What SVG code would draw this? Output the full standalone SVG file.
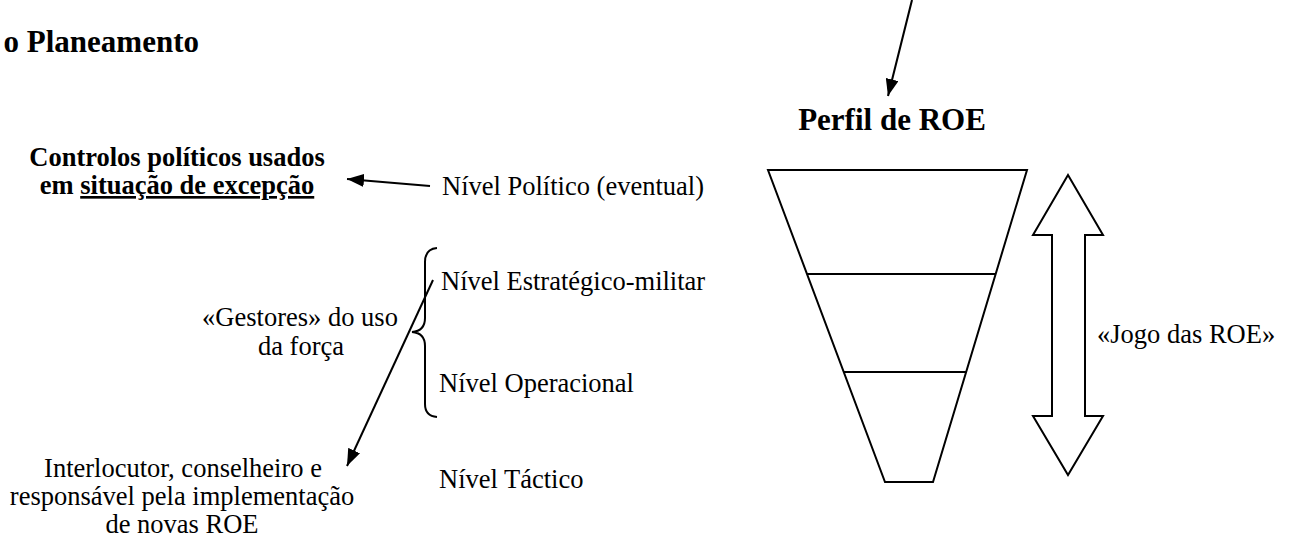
<svg xmlns="http://www.w3.org/2000/svg" width="1290" height="542" viewBox="0 0 1290 542" font-family="'Liberation Serif', Tinos, 'Times New Roman', Times, serif">
<style>
text{font-family:'Liberation Serif',Tinos,'Times New Roman',Times,serif;fill:#000}
.b{font-weight:bold;font-size:26.5px}
.t{font-weight:bold;font-size:31px}
.n{font-size:26.5px}
.ln{stroke:#000;stroke-width:2;fill:none}
</style>
<defs>
<marker id="ah" viewBox="0 0 17 13" refX="17" refY="6.5" markerWidth="17" markerHeight="13" markerUnits="userSpaceOnUse" orient="auto">
<path d="M0,0 L17,6.5 L0,13 z" fill="#000"/>
</marker>
</defs>
<rect width="1290" height="542" fill="#fff"/>
<g id="title"><text class="t" x="199" y="52" text-anchor="end">o Planeamento</text></g>
<g id="controlos">
<text class="b" x="177" y="166" text-anchor="middle">Controlos políticos usados</text>
<text class="b" x="177" y="194" text-anchor="middle">em <tspan text-decoration="underline">situação de excepção</tspan></text>
</g>
<g id="politico"><text class="n" x="442" y="195">Nível Político (eventual)</text></g>
<g id="estrategico"><text class="n" x="441" y="290">Nível Estratégico-militar</text></g>
<g id="operacional"><text class="n" x="439" y="392">Nível Operacional</text></g>
<g id="tactico"><text class="n" x="439" y="488">Nível Táctico</text></g>
<g id="gestores">
<text class="n" x="300" y="326" text-anchor="middle">«Gestores» do uso</text>
<text class="n" x="301" y="355" text-anchor="middle">da força</text>
<path class="ln" d="M437,248 Q425,249 425,262 L425,318 Q425,331 412,332 Q425,333 425,346 L425,404 Q425,416 437,417" stroke-width="1.6"/>
</g>
<g id="interlocutor">
<text class="n" x="183" y="477" text-anchor="middle">Interlocutor, conselheiro e</text>
<text class="n" x="182" y="505" text-anchor="middle">responsável pela implementação</text>
<text class="n" x="182" y="533" text-anchor="middle">de novas ROE</text>
</g>
<g id="perfil"><text class="t" x="892" y="130" text-anchor="middle">Perfil de ROE</text></g>
<g id="funil">
<polygon class="ln" points="768,170 1027,170 933,482 885,482"/>
<line class="ln" x1="807" y1="274" x2="996" y2="274"/>
<line class="ln" x1="844" y1="372" x2="966" y2="372"/>
</g>
<g id="jogo">
<polygon class="ln" points="1068,175 1103,235 1085,235 1085,416 1103,416 1068,475 1033,416 1052,416 1052,235 1033,235"/>
<text class="n" x="1097" y="343">«Jogo das ROE»</text>
</g>
<g id="connectors">
<line class="ln" x1="430" y1="186" x2="347" y2="179" marker-end="url(#ah)"/>
<line class="ln" x1="433" y1="280" x2="347" y2="466" marker-end="url(#ah)"/>
<line class="ln" x1="912" y1="0" x2="888" y2="96" marker-end="url(#ah)"/>
</g>
</svg>
